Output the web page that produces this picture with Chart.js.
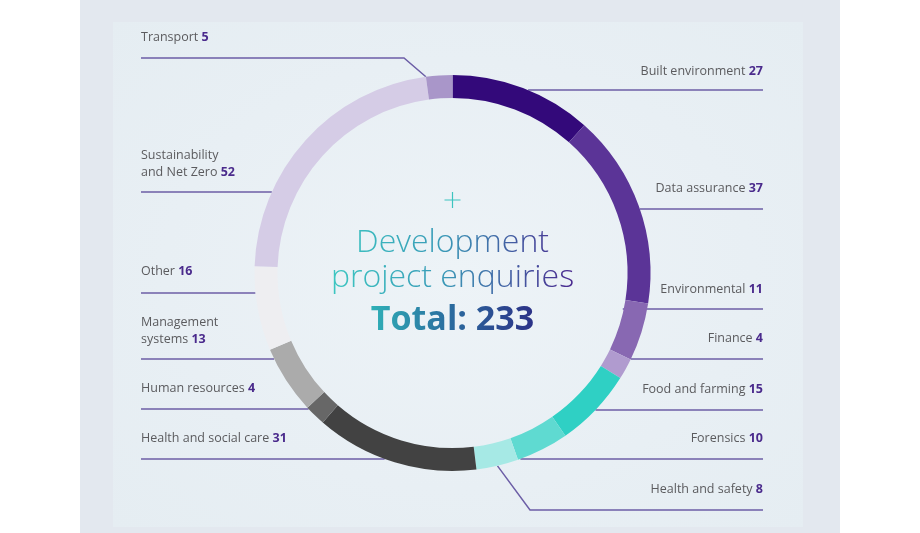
<!DOCTYPE html>
<html>
<head>
<meta charset="utf-8">
<script src="https://cdn.jsdelivr.net/npm/chart.js@4.4.1/dist/chart.umd.min.js"></script>
<style>
  html, body { margin: 0; padding: 0; background: #ffffff; }
  #wrap { position: relative; width: 920px; height: 533px; overflow: hidden; }
  #panel { position: absolute; left: 80px; top: 0; width: 760px; height: 533px; background: #e3e8ef; }
  #inner { position: absolute; left: 113px; top: 22px; width: 690px; height: 505px;
           background: radial-gradient(ellipse at 50% 50%, #edf3f7 0%, #e8eff4 60%, #e5edf2 100%); }
  #chart { position: absolute; left: 0; top: 0; }
</style>
</head>
<body>
<div id="wrap">
  <div id="panel"></div>
  <div id="inner"></div>
  <canvas id="chart" width="920" height="533"></canvas>
</div>
<script>
/*************** Data ****************/

var categories = ['Built environment', 'Data assurance', 'Environmental', 'Finance',
    'Food and farming', 'Forensics', 'Health and safety', 'Health and social care',
    'Human resources', 'Management systems', 'Other', 'Sustainability and Net Zero', 'Transport'];
var enquiries = [27, 37, 11, 4, 15, 10, 8, 31, 4, 13, 16, 52, 5];
var sliceColours = ['#33097a', '#5b3497', '#8868b2', '#b09bcf', '#2fd0c4', '#5fdad1', '#a6e9e5',
    '#424242', '#676767', '#ababab', '#eeeef1', '#d5cce6', '#a996c9'];
var centreTitle = ['Development', 'project enquiries'];
var totalLabel = 'Total: ';

/*************** Label layout (side, text y, line y) ****************/

var labelLayout = [
    {side: 'right', y: 71,  lineY: 90},
    {side: 'right', y: 188, lineY: 209},
    {side: 'right', y: 289, lineY: 309, reach: 'inner'},
    {side: 'right', y: 338, lineY: 359},
    {side: 'right', y: 389, lineY: 410},
    {side: 'right', y: 438, lineY: 459},
    {side: 'right', y: 489, lineY: 510, elbow: 530},
    {side: 'left',  y: 438, lineY: 459},
    {side: 'left',  y: 388, lineY: 409},
    {side: 'left',  y: 322, lineY: 359, wrap: 1},
    {side: 'left',  y: 271, lineY: 293},
    {side: 'left',  y: 155, lineY: 192, wrap: 1},
    {side: 'left',  y: 37,  lineY: 58, elbow: 404}
];

var LEFT_X = 141, RIGHT_X = 763;
var LINE_COLOUR = '#6c5ea6';
var NAME_FONT = '12.5px "Open Sans"';
var NUM_FONT = 'bold 12.5px "Open Sans"';

/*************** Plugins ****************/

function edgeX(arc, side, y, r) {
    var dy = y - arc.y;
    var dx = Math.sqrt(Math.max(r * r - dy * dy, 0));
    return side === 'left' ? arc.x - dx : arc.x + dx;
}

var leaderLines = {
    id: 'leaderLines',
    beforeDatasetsDraw: function (chart) {
        var ctx = chart.ctx;
        var arcs = chart.getDatasetMeta(0).data;
        ctx.save();
        ctx.strokeStyle = LINE_COLOUR;
        ctx.lineWidth = 1.5;
        labelLayout.forEach(function (lay, i) {
            var arc = arcs[i];
            var startX = lay.side === 'left' ? LEFT_X : RIGHT_X;
            ctx.beginPath();
            ctx.moveTo(startX, lay.lineY);
            if (lay.elbow) {
                // diagonal to the slice itself
                var a = lay.side === 'left' ? arc.startAngle : (arc.startAngle + arc.endAngle) / 2;
                ctx.lineTo(lay.elbow, lay.lineY);
                ctx.lineTo(arc.x + arc.outerRadius * Math.cos(a), arc.y + arc.outerRadius * Math.sin(a));
            } else {
                var r = lay.reach === 'inner' ? arc.innerRadius - 1 : arc.outerRadius;
                ctx.lineTo(edgeX(arc, lay.side, lay.lineY, r), lay.lineY);
            }
            ctx.stroke();
        });
        ctx.restore();
    },
    afterDatasetsDraw: function (chart) {
        var ctx = chart.ctx;
        var values = chart.data.datasets[0].data;
        ctx.save();
        ctx.textBaseline = 'middle';
        labelLayout.forEach(function (lay, i) {
            var words = chart.data.labels[i].split(' ');
            var lines = lay.wrap ? [words.slice(0, lay.wrap).join(' '), words.slice(lay.wrap).join(' ')] : [words.join(' ')];
            lines.forEach(function (txt, k) {
                var y = lay.y + k * 17;
                var last = k === lines.length - 1;
                var name = last ? txt + ' ' : txt;
                var num = last ? String(values[i]) : '';
                ctx.font = NAME_FONT;
                var wName = ctx.measureText(name).width;
                ctx.font = NUM_FONT;
                var wNum = ctx.measureText(num).width;
                var x = lay.side === 'left' ? LEFT_X : RIGHT_X - wName - wNum;
                ctx.textAlign = 'left';
                ctx.font = NAME_FONT;
                ctx.fillStyle = '#5b5b5e';
                ctx.fillText(name, x, y);
                ctx.font = NUM_FONT;
                ctx.fillStyle = '#4a2a8c';
                ctx.fillText(num, x + wName, y);
            });
        });
        ctx.restore();
    },
    afterDraw: function (chart) {
        var ctx = chart.ctx;
        var arc = chart.getDatasetMeta(0).data[0];
        var cx = arc.x, cy = arc.y;
        var total = chart.data.datasets[0].data.reduce(function (s, v) { return s + v; }, 0);
        ctx.save();
        // plus sign
        ctx.strokeStyle = '#3cc4bf';
        ctx.lineWidth = 1.2;
        ctx.beginPath();
        ctx.moveTo(cx - 8, cy - 73); ctx.lineTo(cx + 8, cy - 73);
        ctx.moveTo(cx, cy - 81); ctx.lineTo(cx, cy - 65);
        ctx.stroke();

        ctx.textAlign = 'center';
        ctx.textBaseline = 'alphabetic';
        var g = ctx.createLinearGradient(cx - 120, 0, cx + 120, 0);
        g.addColorStop(0, '#3cc6c1');
        g.addColorStop(0.45, '#3a9bb8');
        g.addColorStop(1, '#4b2a90');
        ctx.fillStyle = g;
        ctx.font = '300 32px "Open Sans"';
        ctx.fillText(centreTitle[0], cx, cy - 21);
        ctx.fillText(centreTitle[1], cx, cy + 14);

        var g2 = ctx.createLinearGradient(cx - 85, 0, cx + 85, 0);
        g2.addColorStop(0, '#2fb3b8');
        g2.addColorStop(0.5, '#2b6a9e');
        g2.addColorStop(1, '#2c2f86');
        ctx.fillStyle = g2;
        ctx.font = 'bold 34px "Open Sans"';
        ctx.fillText(totalLabel + total, cx, cy + 57);
        ctx.restore();
    }
};

/*************** Creating chart ****************/

new Chart(document.getElementById('chart'), {
    type: 'doughnut',
    data: {
        labels: categories,
        datasets: [{
            data: enquiries,
            backgroundColor: sliceColours,
            borderWidth: 0,
            hoverOffset: 0
        }]
    },
    options: {
        responsive: false,
        animation: false,
        cutout: '88.4%',
        layout: { padding: { left: 254.5, right: 269.5, top: 75, bottom: 62 } },
        plugins: { legend: { display: false }, tooltip: { enabled: false } },
        events: []
    },
    plugins: [leaderLines]
});
</script>
</body>
</html>
